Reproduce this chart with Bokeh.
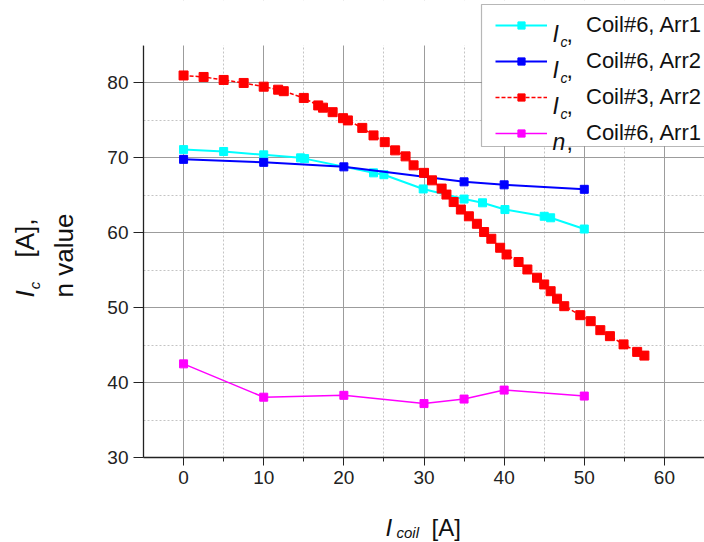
from math import pi
from bokeh.plotting import figure
from bokeh.layouts import column, row
from bokeh.models import FixedTicker, Legend, LegendItem, Label, BoxAnnotation
from bokeh.embed import file_html
from bokeh.resources import INLINE

# ---------------- data ----------------
cyan_x = [0, 5, 10, 14.6, 15.1, 23.7, 25.0, 29.9, 35.0, 37.3, 40.1, 45.0, 45.8, 50.0]
cyan_y = [71.1, 70.85, 70.4, 70.0, 69.9, 68.0, 67.75, 65.85, 64.5, 64.0, 63.1, 62.2, 62.0, 60.5]

blue_x = [0, 10, 20, 35, 40, 50]
blue_y = [69.8, 69.4, 68.8, 66.8, 66.4, 65.8]

red_x = [0, 2.5, 5, 7.5, 10, 11.8, 12.5, 15, 16.8, 17.4, 18.6, 19.9, 20.5, 22.3, 23.7,
         25.1, 26.4, 27.7, 28.7, 30.0, 31.0, 32.2, 32.8, 33.7, 34.6, 35.6, 36.6, 37.5,
         38.4, 39.5, 40.3, 41.8, 42.9, 44.1, 45.0, 45.8, 46.6, 47.5, 49.5, 50.8, 52.0,
         53.2, 54.9, 56.6, 57.5]
red_y = [81.0, 80.8, 80.4, 80.0, 79.5, 79.1, 78.9, 78.0, 77.0, 76.7, 76.1, 75.3, 75.0,
         74.0, 73.0, 72.1, 71.0, 70.2, 69.0, 68.0, 67.0, 65.9, 65.1, 64.1, 63.1, 62.2,
         61.2, 60.1, 59.2, 58.0, 57.1, 56.1, 55.1, 54.0, 53.1, 52.2, 51.2, 50.2, 49.0,
         48.2, 47.0, 46.2, 45.1, 44.1, 43.6]

mag_x = [0, 10, 20, 30, 35, 40, 50]
mag_y = [42.5, 38.05, 38.3, 37.2, 37.8, 39.0, 38.2]

x_ticks = [0, 10, 20, 30, 40, 50, 60]
x_minor = [5, 15, 25, 35, 45, 55]
y_ticks = [30, 40, 50, 60, 70, 80]
y_minor = [35, 45, 55, 65, 75]
x_lim = (-5, 65)
y_lim = (30, 85)

legend_names = ["Coil#6, Arr1", "Coil#6, Arr2", "Coil#3, Arr2", "Coil#6, Arr1"]
legend_prefix = ["I", "I", "I", "n"]
legend_sub = ["c", "c", "c", ""]

x_title = ["I", "coil", "[A]"]
y_title1 = ["I", "c", "[A],"]
y_title2 = "n value"

# ---------------- layout geometry (page pixels) ----------------
FONT = "Liberation Sans"
TXT = "#111111"
PAGE_W, PAGE_H = 704, 542
YT_W = 90            # width of the y-title strip
MAIN_H = 500         # height of the main figure
FR_L, FR_T, FR_B = 143, 45, 457   # frame left, y=85 line, frame bottom

# extend the y range so the frame reaches the top of the canvas (legend room)
y_top = y_lim[1] + FR_T * (y_lim[1] - y_lim[0]) / (FR_B - FR_T)


def fx(X):
    return X - FR_L


def fy(Y):
    return FR_B - Y


main = figure(width=PAGE_W - YT_W, height=MAIN_H, x_range=x_lim, y_range=(y_lim[0], y_top),
              output_backend="svg", toolbar_location=None,
              min_border_left=FR_L - YT_W, min_border_right=0, min_border_top=0,
              min_border_bottom=MAIN_H - FR_B)
main.title.visible = False
main.outline_line_color = None
main.background_fill_color = "white"
main.border_fill_color = "white"

main.xaxis.ticker = FixedTicker(ticks=x_ticks, minor_ticks=x_minor)
main.yaxis.ticker = FixedTicker(ticks=y_ticks, minor_ticks=y_minor)
main.yaxis.bounds = y_lim

for ax in (main.xaxis, main.yaxis):
    ax.axis_line_color = "#222222"
    ax.axis_line_width = 1.3
    ax.major_tick_line_color = "#222222"
    ax.minor_tick_line_color = "#222222"
    ax.major_tick_in = 0
    ax.minor_tick_in = 0
    ax.major_label_text_font = FONT
    ax.major_label_text_font_size = "19px"
    ax.major_label_text_color = "#222222"
    ax.major_label_standoff = 5
main.xaxis.major_tick_out = 8
main.xaxis.minor_tick_out = 4
main.yaxis.major_tick_out = 10
main.yaxis.minor_tick_out = 0

for g in (main.xgrid, main.ygrid):
    g.grid_line_color = "#9c9c9c"
    g.grid_line_width = 1
    g.minor_grid_line_color = "#c4c4c4"
    g.minor_grid_line_dash = "2 2"
    g.minor_grid_line_width = 1

# ---------------- series ----------------
c_l = main.line(cyan_x, cyan_y, line_color="#00FFFF", line_width=2)
c_s = main.scatter(cyan_x, cyan_y, marker="square", size=8, fill_color="#00FFFF", line_color="#00FFFF")
b_l = main.line(blue_x, blue_y, line_color="#0000FF", line_width=2)
b_s = main.scatter(blue_x, blue_y, marker="square", size=8, fill_color="#0000FF", line_color="#0000FF")
r_l = main.line(red_x, red_y, line_color="#FF0000", line_width=1.5, line_dash="4 2")
r_s = main.scatter(red_x, red_y, marker="square", size=9, fill_color="#FF0000", line_color="#FF0000")
m_l = main.line(mag_x, mag_y, line_color="#FF00FF", line_width=1.5)
m_s = main.scatter(mag_x, mag_y, marker="square", size=8, fill_color="#FF00FF", line_color="#FF00FF")

# white cover above the top of the axis (grid lines stop at y = 85)
main.add_layout(BoxAnnotation(bottom=y_lim[1], fill_color="white", fill_alpha=1.0,
                              line_color=None))

# ---------------- legend ----------------
main.add_layout(BoxAnnotation(left=fx(481), right=fx(900), top=fy(4), bottom=fy(146),
                              left_units="screen", right_units="screen",
                              top_units="screen", bottom_units="screen",
                              fill_color="white", fill_alpha=1.0,
                              line_color="#111111", line_width=1.2))

items = [LegendItem(label=legend_names[0], renderers=[c_l, c_s]),
         LegendItem(label=legend_names[1], renderers=[b_l, b_s]),
         LegendItem(label=legend_names[2], renderers=[r_l, r_s]),
         LegendItem(label=legend_names[3], renderers=[m_l, m_s])]
legend = Legend(items=items, location=(fx(495), fy(146)),
                glyph_width=52, glyph_height=18, label_height=26,
                label_standoff=39, spacing=10, padding=0, margin=0,
                border_line_color=None, background_fill_alpha=0,
                label_text_font=FONT, label_text_font_size="22px",
                label_text_color=TXT, label_text_baseline="middle")
main.add_layout(legend)

row_centers = [25, 61, 97, 133]
for i, yc in enumerate(row_centers):
    main.add_layout(Label(x=fx(552), y=fy(yc + 8), x_units="screen", y_units="screen",
                          text=legend_prefix[i], text_font=FONT, text_font_style="italic",
                          text_font_size="23px", text_color=TXT,
                          text_align="left", text_baseline="alphabetic"))
    if legend_sub[i]:
        main.add_layout(Label(x=fx(560), y=fy(yc + 16), x_units="screen", y_units="screen",
                              text=legend_sub[i], text_font=FONT, text_font_style="italic",
                              text_font_size="14px", text_color=TXT,
                              text_align="left", text_baseline="alphabetic"))
    main.add_layout(Label(x=fx(566), y=fy(yc + 8), x_units="screen", y_units="screen",
                          text=",", text_font=FONT, text_font_size="23px",
                          text_color=TXT, text_align="left",
                          text_baseline="alphabetic"))


# ---------------- title strips (data units = page pixels) ----------------
def strip(w, h, y0, y1, border_bottom=0):
    f = figure(width=w, height=h, x_range=(0, w), y_range=(y1, y0),
               output_backend="svg", toolbar_location=None,
               x_axis_location=None, y_axis_location=None,
               min_border_left=0, min_border_right=0, min_border_top=0,
               min_border_bottom=border_bottom)
    f.title.visible = False
    f.outline_line_color = None
    f.grid.visible = False
    f.background_fill_color = "white"
    f.border_fill_color = "white"
    return f


# y title strip: frame spans page y 0..FR_B (same frame as the main plot)
yfig = strip(YT_W, MAIN_H, 0, FR_B, border_bottom=MAIN_H - FR_B)
YF = 26
yfig.add_layout(Label(x=24, y=293.5, text=y_title1[0], text_font=FONT,
                      text_font_style="italic", text_font_size=f"{YF}px",
                      text_color=TXT, angle=pi / 2,
                      text_align="center", text_baseline="middle"))
yfig.add_layout(Label(x=34, y=285, text=y_title1[1], text_font=FONT,
                      text_font_style="italic", text_font_size="15px",
                      text_color=TXT, angle=pi / 2,
                      text_align="center", text_baseline="middle"))
yfig.add_layout(Label(x=24, y=237.5, text=y_title1[2], text_font=FONT,
                      text_font_size=f"{YF}px", text_color=TXT, angle=pi / 2,
                      text_align="center", text_baseline="middle"))
yfig.add_layout(Label(x=63, y=255, text=y_title2, text_font=FONT,
                      text_font_size=f"{YF}px", text_color=TXT, angle=pi / 2,
                      text_align="center", text_baseline="middle"))

# x title strip: page x 0..PAGE_W, page y MAIN_H..PAGE_H
xfig = strip(PAGE_W, PAGE_H - MAIN_H, MAIN_H, PAGE_H)
xfig.add_layout(Label(x=385, y=527, text=x_title[0], text_font=FONT,
                      text_font_style="italic", text_font_size="24px",
                      text_color=TXT, text_align="left", text_baseline="alphabetic"))
xfig.add_layout(Label(x=396, y=532, text=x_title[1], text_font=FONT,
                      text_font_style="italic", text_font_size="15px",
                      text_color=TXT, text_align="left", text_baseline="alphabetic"))
xfig.add_layout(Label(x=431, y=527, text=x_title[2], text_font=FONT,
                      text_font_size="24px", text_color=TXT,
                      text_align="left", text_baseline="alphabetic"))

layout = column(row(yfig, main), xfig)
open("out.html", "w").write(file_html(layout, INLINE))
